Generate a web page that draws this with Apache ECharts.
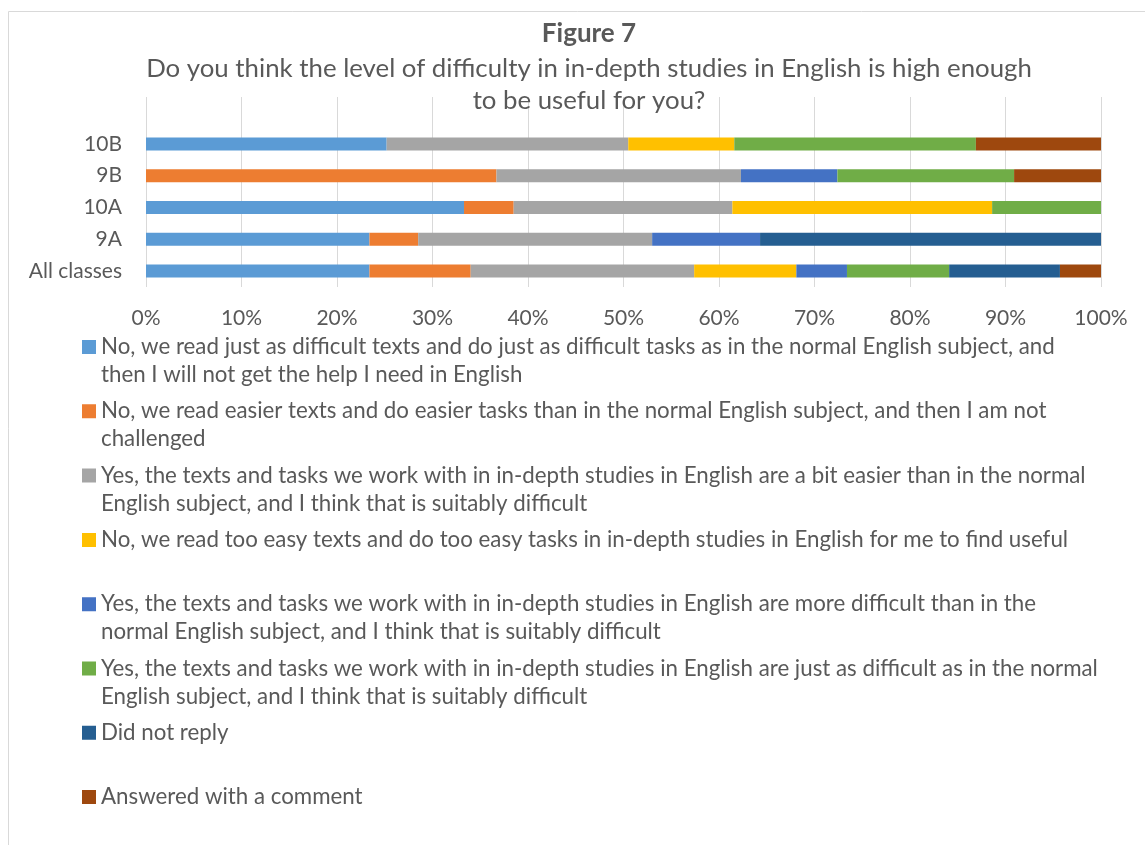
<!DOCTYPE html>
<html>
<head>
<meta charset="utf-8">
<script src="https://cdn.jsdelivr.net/npm/echarts@6/dist/echarts.min.js"></script>
<style>
html,body{margin:0;padding:0;background:#fff;}
#chart{width:1145px;height:845px;}
</style>
</head>
<body>
<div id="chart"></div>
<script>
// ---- Data ----
var categories = ['All classes', '9A', '10A', '9B', '10B'];
var seriesNames = [
  'No, we read just as difficult texts and do just as difficult tasks as in the normal English subject, and\nthen I will not get the help I need in English',
  'No, we read easier texts and do easier tasks than in the normal English subject, and then I am not\nchallenged',
  'Yes, the texts and tasks we work with in in-depth studies in English are a bit easier than in the normal\nEnglish subject, and I think that is suitably difficult',
  'No, we read too easy texts and do too easy tasks in in-depth studies in English for me to find useful\n ',
  'Yes, the texts and tasks we work with in in-depth studies in English are more difficult than in the\nnormal English subject, and I think that is suitably difficult',
  'Yes, the texts and tasks we work with in in-depth studies in English are just as difficult as in the normal\nEnglish subject, and I think that is suitably difficult',
  'Did not reply\n ',
  'Answered with a comment\n '
];
var justAsDifficultNoHelp = [23.4, 23.4, 33.3, 0, 25.2];
var easierNotChallenged   = [10.6, 5.1, 5.2, 36.7, 0];
var bitEasierSuitable     = [23.4, 24.5, 22.9, 25.6, 25.3];
var tooEasy               = [10.7, 0, 27.2, 0, 11.1];
var moreDifficultSuitable = [5.3, 11.3, 0, 10.1, 0];
var justAsDifficultSuit   = [10.7, 0, 11.4, 18.5, 25.3];
var didNotReply           = [11.6, 35.7, 0, 0, 0];
var answeredComment       = [4.3, 0, 0, 9.1, 13.1];
var seriesValues = [justAsDifficultNoHelp, easierNotChallenged, bitEasierSuitable, tooEasy,
                    moreDifficultSuitable, justAsDifficultSuit, didNotReply, answeredComment];
var colors = ['#5B9BD5', '#ED7D31', '#A5A5A5', '#FFC000', '#4472C4', '#70AD47', '#255E91', '#9E480E'];
var xTicks = [0, 10, 20, 30, 40, 50, 60, 70, 80, 90, 100];

var FONT = 'Lato';
var chart = echarts.init(document.getElementById('chart'), null, {renderer: 'canvas'});

var series = seriesNames.map(function (name, i) {
  return {
    name: name,
    type: 'bar',
    stack: 'total',
    xAxisIndex: 1,
    yAxisIndex: 1,
    barWidth: 13,
    itemStyle: {color: colors[i]},
    data: seriesValues[i]
  };
});

var option = {
  animation: false,
  textStyle: {fontFamily: FONT},
  title: [
    {
      text: 'Figure 7',
      left: 584, top: 16, textAlign: 'center',
      textStyle: {fontFamily: FONT, fontWeight: 'bold', fontSize: 26, color: '#595959'}
    },
    {
      text: 'Do you think the level of difficulty in in-depth studies in English is high enough\nto be useful for you?',
      left: 584, top: 48, textAlign: 'center',
      textStyle: {fontFamily: FONT, fontWeight: 'normal', fontSize: 25.8, lineHeight: 32, color: '#595959'}
    }
  ],
  graphic: [{
    type: 'rect', silent: true, z: -10,
    shape: {x: 8.5, y: 11.5, width: 1200, height: 900},
    style: {fill: 'none', stroke: '#D9D9D9', lineWidth: 1}
  }],
  legend: {
    orient: 'vertical',
    left: 82, top: 333, padding: 0,
    itemWidth: 14, itemHeight: 56, itemGap: 8.3,
    icon: 'path://M0,0L0.001,0ZM0,7L14,7L14,21L0,21ZM14,56L13.999,56Z',
    textStyle: {fontFamily: FONT, fontSize: 22.3, lineHeight: 28, color: '#595959'},
    data: seriesNames
  },
  grid: [
    {left: 146, right: 44, top: 97, bottom: 558},
    {left: 146, right: 44, top: 128, bottom: 558}
  ],
  xAxis: [
    {
      gridIndex: 0, type: 'value', min: 0, max: 100, interval: 10,
      axisLine: {show: false}, axisTick: {show: false},
      splitLine: {show: true, lineStyle: {color: '#D9D9D9', width: 1}},
      axisLabel: {formatter: '{value}%', fontFamily: FONT, fontSize: 21, color: '#595959', margin: 21}
    },
    {
      gridIndex: 1, type: 'value', min: 0, max: 100, interval: 10,
      show: false
    }
  ],
  yAxis: [
    {gridIndex: 0, type: 'value', show: false},
    {
      gridIndex: 1, type: 'category', data: categories,
      axisLine: {show: false}, axisTick: {show: false},
      axisLabel: {fontFamily: FONT, fontSize: 21, color: '#595959', margin: 24}
    }
  ],
  series: series
};
chart.setOption(option);
</script>
</body>
</html>
